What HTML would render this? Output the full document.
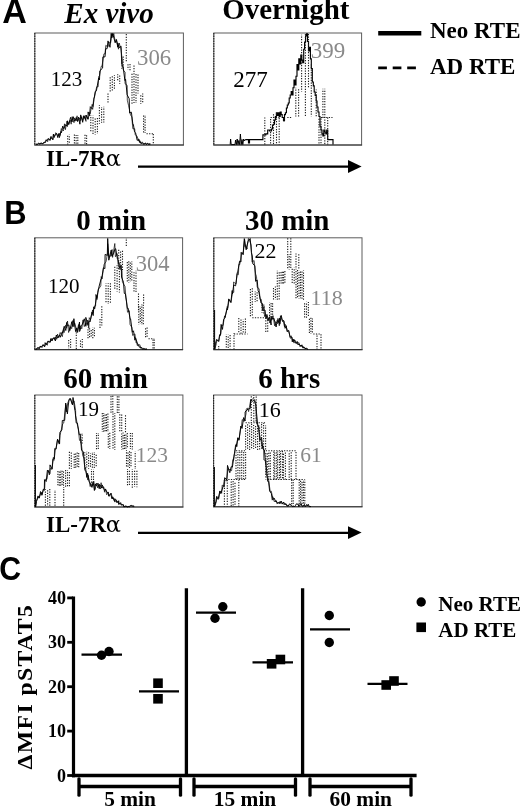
<!DOCTYPE html>
<html><head><meta charset="utf-8"><title>Figure</title>
<style>html,body{margin:0;padding:0;background:#fff}svg{display:block}</style></head>
<body><svg width="520" height="806" viewBox="0 0 520 806">
<rect width="520" height="806" fill="#fff"/>
<rect x="34.8" y="33.0" width="148.6" height="112.0" fill="none" stroke="#5c5c5c" stroke-width="1.0"/>
<line x1="34.8" y1="33.0" x2="34.8" y2="145.0" stroke="#222" stroke-width="1.1" stroke-dasharray="1.6 0.9"/>
<line x1="34.3" y1="145.0" x2="183.9" y2="145.0" stroke="#333" stroke-width="1.1"/>
<rect x="213.8" y="33.0" width="147.8" height="112.0" fill="none" stroke="#5c5c5c" stroke-width="1.0"/>
<line x1="213.8" y1="33.0" x2="213.8" y2="145.0" stroke="#222" stroke-width="1.1" stroke-dasharray="1.6 0.9"/>
<line x1="213.3" y1="145.0" x2="362.1" y2="145.0" stroke="#333" stroke-width="1.1"/>
<rect x="34.8" y="237.8" width="147.8" height="111.8" fill="none" stroke="#5c5c5c" stroke-width="1.0"/>
<line x1="34.8" y1="237.8" x2="34.8" y2="349.6" stroke="#222" stroke-width="1.1" stroke-dasharray="1.6 0.9"/>
<line x1="34.3" y1="349.6" x2="183.1" y2="349.6" stroke="#333" stroke-width="1.1"/>
<rect x="213.8" y="237.8" width="148.2" height="111.8" fill="none" stroke="#5c5c5c" stroke-width="1.0"/>
<line x1="213.8" y1="237.8" x2="213.8" y2="349.6" stroke="#222" stroke-width="1.1" stroke-dasharray="1.6 0.9"/>
<line x1="213.3" y1="349.6" x2="362.5" y2="349.6" stroke="#333" stroke-width="1.1"/>
<rect x="34.8" y="395.0" width="148.1" height="112.0" fill="none" stroke="#5c5c5c" stroke-width="1.0"/>
<line x1="34.8" y1="395.0" x2="34.8" y2="507.0" stroke="#222" stroke-width="1.1" stroke-dasharray="1.6 0.9"/>
<line x1="34.3" y1="507.0" x2="183.4" y2="507.0" stroke="#333" stroke-width="1.1"/>
<rect x="213.6" y="395.0" width="148.4" height="111.8" fill="none" stroke="#5c5c5c" stroke-width="1.0"/>
<line x1="213.6" y1="395.0" x2="213.6" y2="506.8" stroke="#222" stroke-width="1.1" stroke-dasharray="1.6 0.9"/>
<line x1="213.1" y1="506.8" x2="362.5" y2="506.8" stroke="#333" stroke-width="1.1"/>
<polyline points="36.0,144.0 37.3,144.4 38.7,143.3 40.0,144.0 40.8,142.9 42.9,143.8 44.5,142.3 45.5,142.4 46.4,139.9 47.0,140.7 48.3,138.4 50.0,140.4 51.0,136.4 52.9,139.7 53.4,134.0 54.2,136.5 56.6,133.4 57.8,137.6 58.9,133.7 59.4,137.6 61.0,131.5 61.5,132.7 62.7,126.1 63.7,128.7 65.8,124.6 67.3,126.5 67.5,120.8 68.9,124.4 70.5,117.4 72.0,122.0 73.1,116.6 74.8,121.3 76.2,117.5 77.6,121.4 78.5,117.1 79.9,124.2 80.7,114.9 82.7,122.3 83.7,115.8 85.5,119.7 86.2,115.2 88.0,119.0 88.1,111.9 89.6,115.7 90.3,106.7 92.6,109.3 94.0,99.6 94.1,98.9 95.2,91.5 96.4,90.8 98.7,78.0 99.5,79.9 99.8,70.8 102.6,68.1 102.9,56.9 105.0,56.9 105.7,48.8 107.1,48.7 108.0,40.9 110.0,47.3 111.2,33.5 111.8,38.0 112.7,33.5 115.2,42.7 116.3,39.3 117.8,47.2 117.7,42.9 119.2,47.7 121.1,46.2 121.7,64.2 123.2,67.4 124.9,80.5 125.6,79.3 127.1,94.7 129.2,98.7 129.6,113.0 131.4,112.2 132.9,124.6 133.4,124.5 134.5,131.8 135.6,132.8 137.2,140.4 138.9,139.0 139.5,142.3 139.9,140.8 140.9,143.5 142.5,143.1 144.0,144.2 145.8,143.0 146.4,144.4 147.4,143.5 148.9,144.5 150.4,144.0" fill="none" stroke="#000" stroke-width="0.95" stroke-linejoin="bevel"/>
<polyline points="36.0,144.0 36.8,144.6 38.6,143.3 39.6,144.0 41.5,143.3 42.1,144.0 44.1,142.0 44.5,143.1 46.2,139.7 47.7,141.7 48.3,139.0 50.1,140.1 50.3,137.6 52.8,139.5 53.6,134.0 54.3,137.6 55.7,132.7 58.2,136.0 59.1,133.2 60.0,135.5 61.3,128.6 63.4,131.0 64.5,123.8 65.4,129.7 66.9,121.2 68.0,125.1 70.2,120.0 71.2,124.2 72.0,116.8 74.0,122.7 74.0,117.8 76.2,121.0 77.1,115.8 77.5,121.3 79.8,117.8 80.2,120.7 81.8,116.7 82.6,120.6 84.2,115.7 86.0,121.4 85.9,115.2 88.0,119.5 89.7,112.4 90.1,113.8 92.2,104.3 92.9,106.6 93.7,98.3 94.5,97.0 96.7,86.8 98.2,86.7 98.6,76.6 99.6,75.6 101.2,66.4 102.0,66.2 103.9,53.9 105.0,53.8 105.8,45.3 107.9,47.1 109.5,42.2 110.7,42.8 112.0,33.5 112.8,36.5 113.8,33.5 115.3,42.3 116.7,40.5 118.5,49.2 119.2,43.0 120.9,49.0 121.7,55.4 123.3,70.1 125.1,72.2 125.0,83.7 127.2,85.4 127.3,100.2 128.6,105.7 130.5,114.9 131.8,116.9 132.8,128.7 134.7,128.8 135.2,134.5 137.2,136.5 138.6,141.0 138.8,140.3 140.0,142.8 142.5,142.1 143.5,144.2 145.4,143.2 146.3,144.5 147.8,143.1 148.5,144.2 149.5,143.5 150.4,144.0" fill="none" stroke="#000" stroke-width="0.7" stroke-linejoin="bevel"/>
<line x1="67.7" y1="134.8" x2="67.7" y2="144.4" stroke="#1a1a1a" stroke-width="1.1" stroke-dasharray="1.25 1.35" stroke-dashoffset="1.7"/>
<line x1="69.3" y1="134.6" x2="69.3" y2="144.1" stroke="#1a1a1a" stroke-width="1.1" stroke-dasharray="1.25 1.35" stroke-dashoffset="1.0"/>
<line x1="74.4" y1="134.6" x2="74.4" y2="144.1" stroke="#1a1a1a" stroke-width="1.1" stroke-dasharray="1.25 1.35" stroke-dashoffset="0.1"/>
<line x1="76.1" y1="134.9" x2="76.1" y2="144.5" stroke="#1a1a1a" stroke-width="1.1" stroke-dasharray="1.25 1.35" stroke-dashoffset="0.2"/>
<line x1="77.8" y1="134.9" x2="77.8" y2="143.8" stroke="#1a1a1a" stroke-width="1.1" stroke-dasharray="1.25 1.35" stroke-dashoffset="0.3"/>
<line x1="85.0" y1="134.7" x2="85.0" y2="144.0" stroke="#1a1a1a" stroke-width="1.1" stroke-dasharray="1.25 1.35" stroke-dashoffset="2.5"/>
<line x1="86.6" y1="135.1" x2="86.6" y2="144.2" stroke="#1a1a1a" stroke-width="1.1" stroke-dasharray="1.25 1.35" stroke-dashoffset="2.5"/>
<line x1="90.8" y1="115.1" x2="90.8" y2="132.4" stroke="#1a1a1a" stroke-width="1.1" stroke-dasharray="1.25 1.35" stroke-dashoffset="0.8"/>
<line x1="93.0" y1="115.4" x2="93.0" y2="134.6" stroke="#1a1a1a" stroke-width="1.1" stroke-dasharray="1.25 1.35" stroke-dashoffset="0.8"/>
<line x1="95.2" y1="117.4" x2="95.2" y2="134.5" stroke="#1a1a1a" stroke-width="1.1" stroke-dasharray="1.25 1.35" stroke-dashoffset="1.5"/>
<line x1="97.4" y1="116.9" x2="97.4" y2="133.9" stroke="#1a1a1a" stroke-width="1.1" stroke-dasharray="1.25 1.35" stroke-dashoffset="1.4"/>
<line x1="99.4" y1="105.2" x2="99.4" y2="123.8" stroke="#1a1a1a" stroke-width="1.1" stroke-dasharray="1.25 1.35" stroke-dashoffset="0.5"/>
<line x1="101.6" y1="107.0" x2="101.6" y2="122.7" stroke="#1a1a1a" stroke-width="1.1" stroke-dasharray="1.25 1.35" stroke-dashoffset="0.8"/>
<line x1="103.8" y1="106.8" x2="103.8" y2="122.6" stroke="#1a1a1a" stroke-width="1.1" stroke-dasharray="1.25 1.35" stroke-dashoffset="0.8"/>
<line x1="108.0" y1="93.0" x2="108.0" y2="103.0" stroke="#1a1a1a" stroke-width="1.1" stroke-dasharray="1.25 1.35" stroke-dashoffset="2.1"/>
<line x1="110.2" y1="76.1" x2="110.2" y2="92.3" stroke="#1a1a1a" stroke-width="1.1" stroke-dasharray="1.25 1.35" stroke-dashoffset="1.5"/>
<line x1="112.3" y1="75.6" x2="112.3" y2="90.4" stroke="#1a1a1a" stroke-width="1.1" stroke-dasharray="1.25 1.35" stroke-dashoffset="1.9"/>
<line x1="114.4" y1="74.9" x2="114.4" y2="90.1" stroke="#1a1a1a" stroke-width="1.1" stroke-dasharray="1.25 1.35" stroke-dashoffset="0.3"/>
<line x1="117.7" y1="74.3" x2="117.7" y2="81.7" stroke="#1a1a1a" stroke-width="1.1" stroke-dasharray="1.25 1.35" stroke-dashoffset="0.4"/>
<line x1="119.7" y1="74.5" x2="119.7" y2="83.9" stroke="#1a1a1a" stroke-width="1.1" stroke-dasharray="1.25 1.35" stroke-dashoffset="1.7"/>
<line x1="121.8" y1="57.1" x2="121.8" y2="68.7" stroke="#1a1a1a" stroke-width="1.1" stroke-dasharray="1.25 1.35" stroke-dashoffset="2.3"/>
<line x1="123.2" y1="55.3" x2="123.2" y2="68.2" stroke="#1a1a1a" stroke-width="1.1" stroke-dasharray="1.25 1.35" stroke-dashoffset="1.5"/>
<line x1="126.3" y1="33.0" x2="126.3" y2="62.7" stroke="#1a1a1a" stroke-width="1.1" stroke-dasharray="1.25 1.35" stroke-dashoffset="1.5"/>
<line x1="128.0" y1="64.1" x2="128.0" y2="69.8" stroke="#1a1a1a" stroke-width="1.1" stroke-dasharray="1.25 1.35" stroke-dashoffset="2.5"/>
<line x1="130.0" y1="64.1" x2="130.0" y2="70.3" stroke="#1a1a1a" stroke-width="1.1" stroke-dasharray="1.25 1.35" stroke-dashoffset="0.2"/>
<line x1="132.0" y1="73.0" x2="132.0" y2="105.0" stroke="#1a1a1a" stroke-width="1.1" stroke-dasharray="1.25 1.35" stroke-dashoffset="1.8"/>
<line x1="134.0" y1="64.6" x2="134.0" y2="103.0" stroke="#1a1a1a" stroke-width="1.1" stroke-dasharray="1.25 1.35" stroke-dashoffset="1.7"/>
<line x1="136.0" y1="74.0" x2="136.0" y2="103.0" stroke="#1a1a1a" stroke-width="1.1" stroke-dasharray="1.25 1.35" stroke-dashoffset="2.6"/>
<line x1="138.0" y1="74.0" x2="138.0" y2="93.5" stroke="#1a1a1a" stroke-width="1.1" stroke-dasharray="1.25 1.35" stroke-dashoffset="2.1"/>
<line x1="140.8" y1="94.4" x2="140.8" y2="103.8" stroke="#1a1a1a" stroke-width="1.1" stroke-dasharray="1.25 1.35" stroke-dashoffset="1.7"/>
<line x1="142.7" y1="93.6" x2="142.7" y2="103.6" stroke="#1a1a1a" stroke-width="1.1" stroke-dasharray="1.25 1.35" stroke-dashoffset="0.4"/>
<line x1="143.6" y1="115.0" x2="143.6" y2="133.6" stroke="#1a1a1a" stroke-width="1.1" stroke-dasharray="1.25 1.35" stroke-dashoffset="2.0"/>
<line x1="145.1" y1="115.0" x2="145.1" y2="133.1" stroke="#1a1a1a" stroke-width="1.1" stroke-dasharray="1.25 1.35" stroke-dashoffset="1.0"/>
<line x1="146.5" y1="133.8" x2="153.3" y2="133.8" stroke="#1a1a1a" stroke-width="1.1" stroke-dasharray="1.25 1.35"/>
<line x1="153.3" y1="133.8" x2="153.3" y2="144.6" stroke="#1a1a1a" stroke-width="1.1" stroke-dasharray="1.25 1.35" stroke-dashoffset="2.3"/>
<polyline points="230.2,144.6 230.6,139 231.2,144.6 235,144.6 235.6,140 236.4,144.6 237.2,139 238,144.6 238.8,140.5 239.6,144.6 240.4,134 241.2,144.6 242,139.5 242.8,144.6 243.6,139 244.4,141 245.2,139.6" fill="none" stroke="#000" stroke-width="1"/>
<polyline points="245.2,139.6 248.0,139.6 248.0,139.6 248.5,139.6 248.5,143.0 249.5,143.0 249.5,139.6 262.0,139.6 262.0,139.6 262.9,139.6 262.9,134.8 265.8,134.8 265.8,133.8 267.7,133.8 267.7,130.0 269.5,130.0 269.5,131.0 271.5,131.0 271.5,129.0 272.5,129.0 272.5,125.0 273.5,125.0 273.5,124.2 274.5,124.2 274.5,120.0 275.4,120.0 275.4,116.5 276.4,116.5 276.4,112.7 277.3,112.7 277.3,115.5 278.2,115.5 278.2,112.7 279.2,112.7 279.2,116.5 280.2,116.5 280.2,112.0 281.2,112.0 281.2,114.6 282.2,114.6 282.2,117.5 283.5,117.5 283.5,120.4 284.5,120.4 284.5,114.6 285.4,114.6 285.4,112.7 286.4,112.7 286.4,108.0 287.3,108.0 287.3,105.0 288.3,105.0 288.3,103.0 289.2,103.0 289.2,98.0 290.2,98.0 290.2,95.0 291.2,95.0 291.2,91.5 292.2,91.5 292.2,95.0 293.0,95.0 293.0,87.7 294.0,87.7 294.0,80.0 295.0,80.0 295.0,85.0 296.0,85.0 296.0,76.2 297.0,76.2 297.0,64.6 298.0,64.6 298.0,70.0 298.8,70.0 298.8,58.8 299.8,58.8 299.8,64.0 300.8,64.0 300.8,55.0 301.8,55.0 301.8,60.0 302.7,60.0 302.7,62.7 303.7,62.7 303.7,49.2 304.6,49.2 304.6,42.0 305.6,42.0 305.6,35.8 306.5,35.8 306.5,33.8 307.5,33.8 307.5,41.5 308.5,41.5 308.5,51.0 309.4,51.0 309.4,47.3 310.4,47.3 310.4,58.8 311.3,58.8 311.3,68.5 312.3,68.5 312.3,82.0 313.3,82.0 313.3,85.8 314.2,85.8 314.2,92.0 315.2,92.0 315.2,95.4 316.2,95.4 316.2,101.0 317.0,101.0 317.0,107.0 318.0,107.0 318.0,112.0 319.0,112.0 319.0,116.5 320.0,116.5 320.0,126.2 321.0,126.2 321.0,130.0 322.0,130.0 322.0,133.8 322.9,133.8 322.9,136.0 323.8,136.0 323.8,130.0 324.8,130.0 324.8,132.0 325.8,132.0 325.8,133.8 326.7,133.8 326.7,130.0 327.7,130.0 327.7,139.6 332.5,139.6 332.5,139.6 333.0,139.6 333.0,144.6" fill="none" stroke="#000" stroke-width="1.15" stroke-linejoin="miter"/>
<line x1="264.8" y1="117.5" x2="264.8" y2="144.6" stroke="#1a1a1a" stroke-width="1.1" stroke-dasharray="1.25 1.35" stroke-dashoffset="0.2"/>
<line x1="270.6" y1="117.5" x2="270.6" y2="144.6" stroke="#1a1a1a" stroke-width="1.1" stroke-dasharray="1.25 1.35" stroke-dashoffset="1.2"/>
<line x1="270.6" y1="117.5" x2="279.5" y2="117.5" stroke="#1a1a1a" stroke-width="1.1" stroke-dasharray="1.25 1.35"/>
<line x1="273.5" y1="113.0" x2="273.5" y2="144.6" stroke="#1a1a1a" stroke-width="1.1" stroke-dasharray="1.25 1.35" stroke-dashoffset="1.4"/>
<line x1="276.5" y1="113.0" x2="276.5" y2="144.6" stroke="#1a1a1a" stroke-width="1.1" stroke-dasharray="1.25 1.35" stroke-dashoffset="2.3"/>
<line x1="279.2" y1="117.5" x2="279.2" y2="144.6" stroke="#1a1a1a" stroke-width="1.1" stroke-dasharray="1.25 1.35" stroke-dashoffset="2.1"/>
<line x1="284.0" y1="117.5" x2="284.0" y2="122.0" stroke="#1a1a1a" stroke-width="1.1" stroke-dasharray="1.25 1.35" stroke-dashoffset="2.2"/>
<line x1="287.3" y1="117.5" x2="292.0" y2="117.5" stroke="#1a1a1a" stroke-width="1.1" stroke-dasharray="1.25 1.35"/>
<line x1="295.8" y1="87.7" x2="295.8" y2="116.5" stroke="#1a1a1a" stroke-width="1.1" stroke-dasharray="1.25 1.35" stroke-dashoffset="0.7"/>
<line x1="298.6" y1="87.7" x2="298.6" y2="116.5" stroke="#1a1a1a" stroke-width="1.1" stroke-dasharray="1.25 1.35" stroke-dashoffset="1.1"/>
<line x1="301.6" y1="34.8" x2="301.6" y2="91.5" stroke="#1a1a1a" stroke-width="1.1" stroke-dasharray="1.25 1.35" stroke-dashoffset="0.9"/>
<line x1="305.4" y1="33.8" x2="305.4" y2="116.5" stroke="#1a1a1a" stroke-width="1.1" stroke-dasharray="1.25 1.35" stroke-dashoffset="2.3"/>
<line x1="308.5" y1="33.8" x2="308.5" y2="88.0" stroke="#1a1a1a" stroke-width="1.1" stroke-dasharray="1.25 1.35" stroke-dashoffset="2.5"/>
<line x1="311.3" y1="64.6" x2="311.3" y2="116.5" stroke="#1a1a1a" stroke-width="1.1" stroke-dasharray="1.25 1.35" stroke-dashoffset="0.4"/>
<line x1="316.2" y1="89.6" x2="316.2" y2="116.5" stroke="#1a1a1a" stroke-width="1.1" stroke-dasharray="1.25 1.35" stroke-dashoffset="0.5"/>
<line x1="322.9" y1="88.7" x2="322.9" y2="118.5" stroke="#1a1a1a" stroke-width="1.1" stroke-dasharray="1.25 1.35" stroke-dashoffset="0.6"/>
<line x1="324.8" y1="88.7" x2="324.8" y2="118.5" stroke="#1a1a1a" stroke-width="1.1" stroke-dasharray="1.25 1.35" stroke-dashoffset="0.6"/>
<line x1="321.0" y1="117.5" x2="332.5" y2="117.5" stroke="#1a1a1a" stroke-width="1.1" stroke-dasharray="1.25 1.35"/>
<line x1="319.0" y1="117.5" x2="319.0" y2="144.6" stroke="#1a1a1a" stroke-width="1.1" stroke-dasharray="1.25 1.35" stroke-dashoffset="1.3"/>
<line x1="321.0" y1="117.5" x2="321.0" y2="144.6" stroke="#1a1a1a" stroke-width="1.1" stroke-dasharray="1.25 1.35" stroke-dashoffset="1.5"/>
<line x1="324.8" y1="117.5" x2="324.8" y2="144.6" stroke="#1a1a1a" stroke-width="1.1" stroke-dasharray="1.25 1.35" stroke-dashoffset="0.7"/>
<line x1="327.7" y1="117.5" x2="327.7" y2="144.6" stroke="#1a1a1a" stroke-width="1.1" stroke-dasharray="1.25 1.35" stroke-dashoffset="0.0"/>
<polyline points="35.5,349.2 37.0,348.9 37.7,347.6 39.5,348.5 40.0,346.2 41.3,347.3 42.9,344.7 44.7,346.8 45.1,342.7 46.4,344.7 47.9,341.1 50.4,342.2 50.8,338.7 51.6,340.7 54.1,337.3 55.4,341.0 56.3,335.0 57.5,338.1 59.6,335.1 60.2,337.3 62.3,331.9 62.3,333.3 64.2,326.3 65.8,330.5 66.6,322.5 67.4,325.9 68.8,324.9 69.8,330.6 71.8,321.7 72.8,326.6 73.9,318.7 75.6,331.6 76.8,327.9 77.6,332.4 79.5,322.0 79.7,331.3 81.4,325.3 82.3,324.5 84.3,318.8 85.9,326.3 85.8,317.4 88.0,325.4 88.9,320.7 90.1,321.9 92.0,312.1 93.2,315.6 93.8,306.9 94.7,308.8 96.8,295.4 96.8,298.3 97.8,292.3 99.2,286.0 101.0,279.1 101.7,278.7 103.4,267.8 104.9,268.6 105.1,254.4 107.3,255.4 107.7,238.5 108.8,260.2 111.2,250.1 111.8,256.2 113.4,253.9 115.1,248.9 115.7,248.7 117.4,258.9 118.2,259.8 119.3,268.1 121.3,265.3 121.5,277.0 123.5,282.2 124.3,293.4 125.4,293.8 127.4,308.4 128.1,308.1 130.2,319.0 130.6,319.0 132.3,332.2 133.5,330.8 134.9,340.2 135.6,337.8 137.8,344.8 138.3,344.4 139.3,347.2 140.8,347.1 142.4,349.2 143.8,348.4 144.9,349.2 146.6,349.0 147.0,349.2" fill="none" stroke="#000" stroke-width="0.95" stroke-linejoin="bevel"/>
<polyline points="35.5,349.2 36.9,348.9 38.1,347.4 38.9,348.7 40.9,346.1 42.3,347.4 43.4,344.8 44.9,346.1 46.0,342.9 47.3,345.3 48.1,341.4 49.4,342.4 51.3,338.5 52.3,340.9 52.9,338.0 54.4,339.6 55.7,337.1 56.7,339.3 57.5,334.1 58.6,337.7 60.2,332.5 62.3,336.7 63.6,329.3 64.0,332.7 65.5,325.3 66.5,328.2 67.5,321.0 68.6,332.5 70.8,326.7 71.7,328.7 72.7,320.6 73.9,326.7 74.7,323.1 77.1,331.7 78.5,324.6 79.8,329.2 79.9,325.4 81.8,328.8 83.0,319.9 84.3,326.6 85.5,323.2 86.2,324.7 87.5,320.1 88.8,328.4 89.3,317.7 90.5,319.6 92.6,309.9 92.8,313.2 94.4,306.1 95.6,305.9 95.9,294.4 97.0,299.6 98.3,289.4 100.8,285.9 101.2,276.6 102.0,279.0 104.0,264.6 106.1,261.4 107.6,252.7 107.7,243.7 108.9,256.2 110.4,256.3 112.1,249.5 112.6,257.4 114.8,243.5 115.4,256.7 117.2,253.7 118.1,264.3 119.0,262.4 121.0,270.2 122.0,270.8 122.4,282.1 125.0,286.4 125.9,297.3 126.5,301.2 127.5,312.2 129.4,310.8 130.0,324.4 131.9,327.5 132.6,335.4 134.9,333.9 136.1,342.6 136.5,341.6 137.3,345.6 139.9,344.7 140.6,348.3 141.1,347.2 143.7,349.2 144.5,348.8 145.3,349.2 147.0,349.2" fill="none" stroke="#000" stroke-width="0.7" stroke-linejoin="bevel"/>
<line x1="126.3" y1="238.0" x2="126.3" y2="247.0" stroke="#1a1a1a" stroke-width="1.1" stroke-dasharray="1.25 1.35" stroke-dashoffset="1.1"/>
<line x1="118.7" y1="249.6" x2="118.7" y2="269.8" stroke="#1a1a1a" stroke-width="1.1" stroke-dasharray="1.25 1.35" stroke-dashoffset="2.5"/>
<line x1="120.6" y1="250.6" x2="120.6" y2="270.0" stroke="#1a1a1a" stroke-width="1.1" stroke-dasharray="1.25 1.35" stroke-dashoffset="1.6"/>
<line x1="122.5" y1="250.5" x2="122.5" y2="271.3" stroke="#1a1a1a" stroke-width="1.1" stroke-dasharray="1.25 1.35" stroke-dashoffset="2.3"/>
<line x1="114.8" y1="266.3" x2="114.8" y2="290.1" stroke="#1a1a1a" stroke-width="1.1" stroke-dasharray="1.25 1.35" stroke-dashoffset="2.1"/>
<line x1="117.1" y1="265.2" x2="117.1" y2="291.5" stroke="#1a1a1a" stroke-width="1.1" stroke-dasharray="1.25 1.35" stroke-dashoffset="0.3"/>
<line x1="119.4" y1="265.9" x2="119.4" y2="292.5" stroke="#1a1a1a" stroke-width="1.1" stroke-dasharray="1.25 1.35" stroke-dashoffset="0.2"/>
<line x1="106.0" y1="283.6" x2="106.0" y2="303.5" stroke="#1a1a1a" stroke-width="1.1" stroke-dasharray="1.25 1.35" stroke-dashoffset="0.9"/>
<line x1="108.2" y1="283.2" x2="108.2" y2="304.0" stroke="#1a1a1a" stroke-width="1.1" stroke-dasharray="1.25 1.35" stroke-dashoffset="0.4"/>
<line x1="110.4" y1="283.3" x2="110.4" y2="302.9" stroke="#1a1a1a" stroke-width="1.1" stroke-dasharray="1.25 1.35" stroke-dashoffset="0.1"/>
<line x1="101.8" y1="306.0" x2="101.8" y2="325.4" stroke="#1a1a1a" stroke-width="1.1" stroke-dasharray="1.25 1.35" stroke-dashoffset="2.3"/>
<line x1="100.0" y1="318.0" x2="100.0" y2="328.0" stroke="#1a1a1a" stroke-width="1.1" stroke-dasharray="1.25 1.35" stroke-dashoffset="1.6"/>
<line x1="88.0" y1="327.5" x2="88.0" y2="338.4" stroke="#1a1a1a" stroke-width="1.1" stroke-dasharray="1.25 1.35" stroke-dashoffset="0.9"/>
<line x1="89.6" y1="327.8" x2="89.6" y2="338.6" stroke="#1a1a1a" stroke-width="1.1" stroke-dasharray="1.25 1.35" stroke-dashoffset="2.2"/>
<line x1="91.2" y1="328.8" x2="91.2" y2="338.1" stroke="#1a1a1a" stroke-width="1.1" stroke-dasharray="1.25 1.35" stroke-dashoffset="1.3"/>
<line x1="92.8" y1="327.4" x2="92.8" y2="338.6" stroke="#1a1a1a" stroke-width="1.1" stroke-dasharray="1.25 1.35" stroke-dashoffset="0.9"/>
<line x1="94.4" y1="327.7" x2="94.4" y2="337.6" stroke="#1a1a1a" stroke-width="1.1" stroke-dasharray="1.25 1.35" stroke-dashoffset="0.4"/>
<line x1="68.7" y1="338.8" x2="68.7" y2="348.2" stroke="#1a1a1a" stroke-width="1.1" stroke-dasharray="1.25 1.35" stroke-dashoffset="1.4"/>
<line x1="70.6" y1="338.9" x2="70.6" y2="348.7" stroke="#1a1a1a" stroke-width="1.1" stroke-dasharray="1.25 1.35" stroke-dashoffset="0.1"/>
<line x1="76.3" y1="331.0" x2="76.3" y2="349.2" stroke="#1a1a1a" stroke-width="1.1" stroke-dasharray="1.25 1.35" stroke-dashoffset="1.4"/>
<line x1="76.3" y1="331.0" x2="80.0" y2="331.0" stroke="#1a1a1a" stroke-width="1.1" stroke-dasharray="1.25 1.35"/>
<line x1="80.5" y1="339.8" x2="80.5" y2="348.3" stroke="#1a1a1a" stroke-width="1.1" stroke-dasharray="1.25 1.35" stroke-dashoffset="1.8"/>
<line x1="82.3" y1="339.1" x2="82.3" y2="348.8" stroke="#1a1a1a" stroke-width="1.1" stroke-dasharray="1.25 1.35" stroke-dashoffset="0.4"/>
<line x1="127.3" y1="261.5" x2="127.3" y2="281.9" stroke="#1a1a1a" stroke-width="1.1" stroke-dasharray="1.25 1.35" stroke-dashoffset="2.0"/>
<line x1="128.8" y1="260.7" x2="128.8" y2="282.6" stroke="#1a1a1a" stroke-width="1.1" stroke-dasharray="1.25 1.35" stroke-dashoffset="2.1"/>
<line x1="130.3" y1="262.0" x2="130.3" y2="281.3" stroke="#1a1a1a" stroke-width="1.1" stroke-dasharray="1.25 1.35" stroke-dashoffset="2.1"/>
<line x1="131.8" y1="261.6" x2="131.8" y2="281.5" stroke="#1a1a1a" stroke-width="1.1" stroke-dasharray="1.25 1.35" stroke-dashoffset="0.6"/>
<line x1="134.0" y1="272.2" x2="134.0" y2="291.6" stroke="#1a1a1a" stroke-width="1.1" stroke-dasharray="1.25 1.35" stroke-dashoffset="0.1"/>
<line x1="136.0" y1="270.7" x2="136.0" y2="291.9" stroke="#1a1a1a" stroke-width="1.1" stroke-dasharray="1.25 1.35" stroke-dashoffset="0.7"/>
<line x1="138.5" y1="292.7" x2="138.5" y2="312.0" stroke="#1a1a1a" stroke-width="1.1" stroke-dasharray="1.25 1.35" stroke-dashoffset="1.8"/>
<line x1="138.8" y1="305.9" x2="138.8" y2="324.5" stroke="#1a1a1a" stroke-width="1.1" stroke-dasharray="1.25 1.35" stroke-dashoffset="2.4"/>
<line x1="140.3" y1="306.0" x2="140.3" y2="323.5" stroke="#1a1a1a" stroke-width="1.1" stroke-dasharray="1.25 1.35" stroke-dashoffset="0.9"/>
<line x1="141.8" y1="304.4" x2="141.8" y2="324.9" stroke="#1a1a1a" stroke-width="1.1" stroke-dasharray="1.25 1.35" stroke-dashoffset="0.5"/>
<line x1="143.3" y1="304.4" x2="143.3" y2="324.2" stroke="#1a1a1a" stroke-width="1.1" stroke-dasharray="1.25 1.35" stroke-dashoffset="2.3"/>
<line x1="143.6" y1="294.0" x2="143.6" y2="304.0" stroke="#1a1a1a" stroke-width="1.1" stroke-dasharray="1.25 1.35" stroke-dashoffset="2.2"/>
<line x1="145.6" y1="327.8" x2="145.6" y2="338.1" stroke="#1a1a1a" stroke-width="1.1" stroke-dasharray="1.25 1.35" stroke-dashoffset="2.1"/>
<line x1="147.1" y1="327.4" x2="147.1" y2="338.1" stroke="#1a1a1a" stroke-width="1.1" stroke-dasharray="1.25 1.35" stroke-dashoffset="2.4"/>
<line x1="148.5" y1="338.8" x2="154.2" y2="338.8" stroke="#1a1a1a" stroke-width="1.1" stroke-dasharray="1.25 1.35"/>
<line x1="154.2" y1="338.8" x2="154.2" y2="349.2" stroke="#1a1a1a" stroke-width="1.1" stroke-dasharray="1.25 1.35" stroke-dashoffset="2.0"/>
<line x1="153.0" y1="338.8" x2="153.0" y2="349.2" stroke="#1a1a1a" stroke-width="1.1" stroke-dasharray="1.25 1.35" stroke-dashoffset="2.0"/>
<line x1="214.6" y1="310" x2="214.6" y2="349.2" stroke="#000" stroke-width="1.0"/>
<polyline points="214.8,349.2 215.5,343.1 216.7,339.3 218.7,341.3 219.6,334.7 220.4,335.4 221.1,324.4 222.5,329.4 223.6,319.4 224.8,318.1 227.2,308.4 227.5,309.8 228.7,298.9 230.9,302.3 232.2,290.5 232.5,293.9 233.7,284.9 235.6,285.8 237.3,272.4 237.6,272.6 239.6,261.2 241.0,261.9 241.1,252.5 243.1,254.5 244.3,238.6 246.2,249.8 246.5,247.2 248.1,241.3 250.2,238.5 251.4,252.5 252.3,256.0 252.9,264.0 254.8,265.7 255.6,281.3 257.2,280.0 258.1,290.7 258.9,292.2 261.0,303.0 262.4,303.5 263.1,310.5 265.0,310.0 266.0,318.5 266.9,314.4 268.4,320.5 269.6,316.7 271.1,325.0 271.2,316.4 272.8,319.2 273.9,318.1 276.1,327.0 277.2,320.3 278.2,322.6 279.4,318.1 279.8,324.2 281.2,315.4 282.4,320.5 284.0,320.8 285.1,328.3 286.2,325.8 287.1,331.7 288.7,330.3 290.3,338.2 291.9,337.0 293.0,342.0 293.8,339.2 296.1,343.5 297.3,341.5 298.2,344.9 299.1,343.9 300.9,346.4 301.9,344.8 303.2,348.2 303.8,346.9 304.7,348.5 306.4,348.5 307.3,349.2 308.0,349.2" fill="none" stroke="#000" stroke-width="0.95" stroke-linejoin="bevel"/>
<polyline points="214.8,349.2 216.4,343.6 216.9,340.2 218.7,341.4 219.9,335.1 220.8,334.4 221.7,325.3 223.1,325.4 224.6,315.8 225.2,317.4 227.2,306.5 227.7,308.0 229.2,299.6 230.9,302.6 232.5,292.6 233.8,292.3 233.5,282.1 236.1,283.8 237.1,273.7 238.4,274.7 238.9,264.3 239.7,264.7 241.9,252.2 243.1,254.5 244.6,239.5 244.8,246.6 247.2,247.8 246.9,249.0 248.4,238.5 250.3,242.5 251.2,245.1 252.0,262.2 254.1,260.5 255.6,274.0 256.5,276.5 257.2,287.3 259.1,288.7 260.1,299.4 261.3,299.4 262.6,310.7 264.1,306.2 264.5,316.5 265.3,314.9 267.6,319.9 269.1,317.6 269.8,323.0 271.4,317.7 271.7,320.3 273.0,315.6 274.6,325.8 275.7,321.7 277.6,323.6 277.8,318.5 279.3,325.8 280.5,315.9 282.6,321.7 283.2,320.7 284.5,326.8 285.5,324.5 287.6,331.1 288.7,331.3 290.2,337.0 291.3,335.8 292.2,341.8 293.0,339.4 294.0,343.1 295.3,340.5 297.2,344.2 298.9,342.5 300.0,346.6 300.8,345.0 302.4,347.4 303.7,346.9 305.3,348.3 306.6,348.0 307.7,349.2 308.0,349.2" fill="none" stroke="#000" stroke-width="0.7" stroke-linejoin="bevel"/>
<line x1="218.7" y1="344.5" x2="218.7" y2="349.2" stroke="#1a1a1a" stroke-width="1.1" stroke-dasharray="1.25 1.35" stroke-dashoffset="1.2"/>
<line x1="226.3" y1="334.2" x2="226.3" y2="348.4" stroke="#1a1a1a" stroke-width="1.1" stroke-dasharray="1.25 1.35" stroke-dashoffset="0.9"/>
<line x1="228.2" y1="334.8" x2="228.2" y2="348.2" stroke="#1a1a1a" stroke-width="1.1" stroke-dasharray="1.25 1.35" stroke-dashoffset="1.0"/>
<line x1="230.1" y1="334.4" x2="230.1" y2="348.3" stroke="#1a1a1a" stroke-width="1.1" stroke-dasharray="1.25 1.35" stroke-dashoffset="1.9"/>
<line x1="234.0" y1="333.0" x2="234.0" y2="349.2" stroke="#1a1a1a" stroke-width="1.1" stroke-dasharray="1.25 1.35" stroke-dashoffset="0.4"/>
<line x1="234.0" y1="334.0" x2="247.5" y2="334.0" stroke="#1a1a1a" stroke-width="1.1" stroke-dasharray="1.25 1.35"/>
<line x1="238.8" y1="317.9" x2="238.8" y2="333.8" stroke="#1a1a1a" stroke-width="1.1" stroke-dasharray="1.25 1.35" stroke-dashoffset="2.4"/>
<line x1="241.0" y1="318.9" x2="241.0" y2="333.8" stroke="#1a1a1a" stroke-width="1.1" stroke-dasharray="1.25 1.35" stroke-dashoffset="2.1"/>
<line x1="243.2" y1="319.2" x2="243.2" y2="333.0" stroke="#1a1a1a" stroke-width="1.1" stroke-dasharray="1.25 1.35" stroke-dashoffset="0.9"/>
<line x1="245.4" y1="318.5" x2="245.4" y2="333.8" stroke="#1a1a1a" stroke-width="1.1" stroke-dasharray="1.25 1.35" stroke-dashoffset="0.0"/>
<line x1="250.4" y1="287.9" x2="250.4" y2="316.4" stroke="#1a1a1a" stroke-width="1.1" stroke-dasharray="1.25 1.35" stroke-dashoffset="1.4"/>
<line x1="252.3" y1="287.9" x2="252.3" y2="316.8" stroke="#1a1a1a" stroke-width="1.1" stroke-dasharray="1.25 1.35" stroke-dashoffset="2.3"/>
<line x1="255.2" y1="291.6" x2="255.2" y2="302.1" stroke="#1a1a1a" stroke-width="1.1" stroke-dasharray="1.25 1.35" stroke-dashoffset="0.7"/>
<line x1="257.1" y1="291.1" x2="257.1" y2="302.1" stroke="#1a1a1a" stroke-width="1.1" stroke-dasharray="1.25 1.35" stroke-dashoffset="1.5"/>
<line x1="252.3" y1="317.7" x2="265.8" y2="317.7" stroke="#1a1a1a" stroke-width="1.1" stroke-dasharray="1.25 1.35"/>
<line x1="265.8" y1="318.0" x2="265.8" y2="332.6" stroke="#1a1a1a" stroke-width="1.1" stroke-dasharray="1.25 1.35" stroke-dashoffset="0.3"/>
<line x1="267.7" y1="318.6" x2="267.7" y2="332.6" stroke="#1a1a1a" stroke-width="1.1" stroke-dasharray="1.25 1.35" stroke-dashoffset="1.2"/>
<line x1="262.0" y1="302.9" x2="262.0" y2="313.1" stroke="#1a1a1a" stroke-width="1.1" stroke-dasharray="1.25 1.35" stroke-dashoffset="1.1"/>
<line x1="263.8" y1="303.2" x2="263.8" y2="313.5" stroke="#1a1a1a" stroke-width="1.1" stroke-dasharray="1.25 1.35" stroke-dashoffset="1.4"/>
<line x1="269.6" y1="302.8" x2="269.6" y2="317.7" stroke="#1a1a1a" stroke-width="1.1" stroke-dasharray="1.25 1.35" stroke-dashoffset="1.1"/>
<line x1="271.1" y1="302.5" x2="271.1" y2="317.7" stroke="#1a1a1a" stroke-width="1.1" stroke-dasharray="1.25 1.35" stroke-dashoffset="2.1"/>
<line x1="272.6" y1="302.5" x2="272.6" y2="317.2" stroke="#1a1a1a" stroke-width="1.1" stroke-dasharray="1.25 1.35" stroke-dashoffset="1.9"/>
<line x1="273.5" y1="286.6" x2="273.5" y2="300.1" stroke="#1a1a1a" stroke-width="1.1" stroke-dasharray="1.25 1.35" stroke-dashoffset="1.3"/>
<line x1="275.4" y1="286.6" x2="275.4" y2="299.6" stroke="#1a1a1a" stroke-width="1.1" stroke-dasharray="1.25 1.35" stroke-dashoffset="0.3"/>
<line x1="277.3" y1="270.7" x2="277.3" y2="299.9" stroke="#1a1a1a" stroke-width="1.1" stroke-dasharray="1.25 1.35" stroke-dashoffset="0.7"/>
<line x1="279.2" y1="271.1" x2="279.2" y2="299.4" stroke="#1a1a1a" stroke-width="1.1" stroke-dasharray="1.25 1.35" stroke-dashoffset="1.5"/>
<line x1="281.0" y1="270.7" x2="281.0" y2="283.6" stroke="#1a1a1a" stroke-width="1.1" stroke-dasharray="1.25 1.35" stroke-dashoffset="1.2"/>
<line x1="282.3" y1="270.5" x2="282.3" y2="284.2" stroke="#1a1a1a" stroke-width="1.1" stroke-dasharray="1.25 1.35" stroke-dashoffset="1.3"/>
<line x1="283.6" y1="270.6" x2="283.6" y2="284.3" stroke="#1a1a1a" stroke-width="1.1" stroke-dasharray="1.25 1.35" stroke-dashoffset="1.4"/>
<line x1="284.9" y1="270.3" x2="284.9" y2="283.6" stroke="#1a1a1a" stroke-width="1.1" stroke-dasharray="1.25 1.35" stroke-dashoffset="1.8"/>
<line x1="287.7" y1="238.0" x2="287.7" y2="269.6" stroke="#1a1a1a" stroke-width="1.1" stroke-dasharray="1.25 1.35" stroke-dashoffset="2.3"/>
<line x1="290.8" y1="238.0" x2="290.8" y2="269.6" stroke="#1a1a1a" stroke-width="1.1" stroke-dasharray="1.25 1.35" stroke-dashoffset="2.4"/>
<line x1="289.2" y1="254.0" x2="289.2" y2="269.6" stroke="#1a1a1a" stroke-width="1.1" stroke-dasharray="1.25 1.35" stroke-dashoffset="0.7"/>
<line x1="292.2" y1="268.3" x2="292.2" y2="284.1" stroke="#1a1a1a" stroke-width="1.1" stroke-dasharray="1.25 1.35" stroke-dashoffset="2.2"/>
<line x1="294.2" y1="267.8" x2="294.2" y2="284.9" stroke="#1a1a1a" stroke-width="1.1" stroke-dasharray="1.25 1.35" stroke-dashoffset="1.1"/>
<line x1="296.0" y1="253.4" x2="296.0" y2="269.4" stroke="#1a1a1a" stroke-width="1.1" stroke-dasharray="1.25 1.35" stroke-dashoffset="0.2"/>
<line x1="298.8" y1="254.0" x2="298.8" y2="268.8" stroke="#1a1a1a" stroke-width="1.1" stroke-dasharray="1.25 1.35" stroke-dashoffset="2.3"/>
<line x1="296.0" y1="270.1" x2="296.0" y2="299.2" stroke="#1a1a1a" stroke-width="1.1" stroke-dasharray="1.25 1.35" stroke-dashoffset="1.7"/>
<line x1="297.5" y1="270.0" x2="297.5" y2="298.7" stroke="#1a1a1a" stroke-width="1.1" stroke-dasharray="1.25 1.35" stroke-dashoffset="2.5"/>
<line x1="299.0" y1="270.3" x2="299.0" y2="298.4" stroke="#1a1a1a" stroke-width="1.1" stroke-dasharray="1.25 1.35" stroke-dashoffset="1.0"/>
<line x1="300.5" y1="271.1" x2="300.5" y2="298.3" stroke="#1a1a1a" stroke-width="1.1" stroke-dasharray="1.25 1.35" stroke-dashoffset="2.2"/>
<line x1="302.0" y1="270.1" x2="302.0" y2="300.0" stroke="#1a1a1a" stroke-width="1.1" stroke-dasharray="1.25 1.35" stroke-dashoffset="1.3"/>
<line x1="303.5" y1="270.6" x2="303.5" y2="300.7" stroke="#1a1a1a" stroke-width="1.1" stroke-dasharray="1.25 1.35" stroke-dashoffset="0.8"/>
<line x1="304.6" y1="302.0" x2="304.6" y2="317.7" stroke="#1a1a1a" stroke-width="1.1" stroke-dasharray="1.25 1.35" stroke-dashoffset="1.4"/>
<line x1="306.5" y1="301.7" x2="306.5" y2="317.7" stroke="#1a1a1a" stroke-width="1.1" stroke-dasharray="1.25 1.35" stroke-dashoffset="0.9"/>
<line x1="308.4" y1="301.9" x2="308.4" y2="317.2" stroke="#1a1a1a" stroke-width="1.1" stroke-dasharray="1.25 1.35" stroke-dashoffset="0.2"/>
<line x1="309.4" y1="318.7" x2="309.4" y2="333.2" stroke="#1a1a1a" stroke-width="1.1" stroke-dasharray="1.25 1.35" stroke-dashoffset="2.5"/>
<line x1="310.9" y1="317.8" x2="310.9" y2="333.7" stroke="#1a1a1a" stroke-width="1.1" stroke-dasharray="1.25 1.35" stroke-dashoffset="0.1"/>
<line x1="312.4" y1="318.5" x2="312.4" y2="333.7" stroke="#1a1a1a" stroke-width="1.1" stroke-dasharray="1.25 1.35" stroke-dashoffset="0.3"/>
<line x1="313.3" y1="334.0" x2="321.0" y2="334.0" stroke="#1a1a1a" stroke-width="1.1" stroke-dasharray="1.25 1.35"/>
<line x1="317.0" y1="334.0" x2="317.0" y2="349.2" stroke="#1a1a1a" stroke-width="1.1" stroke-dasharray="1.25 1.35" stroke-dashoffset="1.1"/>
<line x1="321.0" y1="334.0" x2="321.0" y2="349.2" stroke="#1a1a1a" stroke-width="1.1" stroke-dasharray="1.25 1.35" stroke-dashoffset="2.4"/>
<line x1="35.4" y1="465" x2="35.4" y2="506.8" stroke="#000" stroke-width="1.0"/>
<polyline points="35.6,506.8 36.5,501.3 38.0,495.9 39.1,498.2 41.0,492.1 41.9,495.3 43.4,489.4 44.3,490.4 44.5,479.7 46.2,481.5 47.4,470.2 49.9,473.6 50.0,464.9 52.0,468.9 53.4,457.5 54.3,458.9 55.2,449.2 55.9,449.1 57.6,439.3 59.6,443.7 59.9,432.4 61.9,429.9 62.3,420.5 64.7,420.3 65.7,403.0 67.4,413.9 68.2,406.0 69.1,399.3 70.3,398.8 72.6,404.9 73.0,397.5 74.9,410.5 75.1,410.9 76.2,422.9 77.4,423.1 79.3,434.8 80.3,434.5 81.5,450.0 83.4,452.0 84.6,466.4 85.5,467.7 86.8,477.4 87.6,473.3 89.2,481.8 89.6,482.0 92.0,487.4 93.1,481.7 94.4,490.5 95.3,483.9 96.3,486.0 98.0,483.1 99.2,488.6 99.5,484.3 101.9,488.1 102.2,484.9 104.6,490.5 105.6,489.1 107.1,492.7 108.1,492.0 108.7,496.0 110.7,493.5 111.9,498.7 112.7,496.8 114.6,501.3 114.8,498.6 117.0,502.2 118.4,500.9 118.6,504.4 120.9,502.7 120.9,504.8 123.5,504.7 123.6,506.7 126.0,506.0 127.4,506.8 128.8,506.5 129.3,506.8 131.2,505.4 132.3,506.0 133.6,506.6 134.0,506.8" fill="none" stroke="#000" stroke-width="0.95" stroke-linejoin="bevel"/>
<polyline points="35.6,506.8 36.2,501.5 38.5,496.8 39.3,497.7 40.5,491.4 42.1,494.4 43.4,489.1 44.7,488.5 45.1,479.3 47.0,479.3 48.2,470.1 49.4,475.0 50.2,468.5 52.1,469.4 52.7,459.3 54.2,460.3 54.6,448.5 56.1,449.1 57.5,439.3 59.2,444.1 59.9,435.3 60.7,432.3 62.7,424.0 63.7,423.1 65.8,404.6 66.4,411.9 67.8,402.5 70.1,398.2 71.0,399.6 72.1,404.2 74.1,400.9 75.6,410.5 75.7,415.5 77.7,426.6 78.3,429.0 79.5,440.4 80.9,439.6 82.7,455.5 84.3,458.9 84.7,470.3 85.9,470.9 87.9,480.1 88.1,475.2 90.2,486.6 90.9,483.5 92.1,486.1 93.8,481.3 95.1,489.6 96.4,483.1 97.6,487.8 98.1,484.7 100.4,489.0 101.1,482.7 101.8,488.0 103.8,486.9 104.5,492.2 105.4,488.9 106.7,494.8 108.4,492.4 109.1,496.5 111.2,493.1 112.5,498.9 113.0,497.7 114.9,502.1 116.5,499.8 116.8,503.0 118.8,500.8 119.4,504.0 120.8,503.5 121.7,505.2 122.6,504.8 124.7,506.8 125.3,506.3 127.4,506.8 128.7,506.5 128.9,506.8 130.2,505.7 131.8,506.1 133.8,505.7 134.0,506.8" fill="none" stroke="#000" stroke-width="0.7" stroke-linejoin="bevel"/>
<line x1="45.4" y1="489.2" x2="45.4" y2="506.4" stroke="#1a1a1a" stroke-width="1.1" stroke-dasharray="1.25 1.35" stroke-dashoffset="0.4"/>
<line x1="47.6" y1="489.4" x2="47.6" y2="505.9" stroke="#1a1a1a" stroke-width="1.1" stroke-dasharray="1.25 1.35" stroke-dashoffset="1.8"/>
<line x1="49.8" y1="488.1" x2="49.8" y2="506.7" stroke="#1a1a1a" stroke-width="1.1" stroke-dasharray="1.25 1.35" stroke-dashoffset="1.8"/>
<line x1="55.0" y1="490.0" x2="55.0" y2="506.8" stroke="#1a1a1a" stroke-width="1.1" stroke-dasharray="1.25 1.35" stroke-dashoffset="1.1"/>
<line x1="57.9" y1="470.1" x2="57.9" y2="485.6" stroke="#1a1a1a" stroke-width="1.1" stroke-dasharray="1.25 1.35" stroke-dashoffset="1.6"/>
<line x1="59.3" y1="471.2" x2="59.3" y2="486.9" stroke="#1a1a1a" stroke-width="1.1" stroke-dasharray="1.25 1.35" stroke-dashoffset="2.2"/>
<line x1="60.7" y1="470.1" x2="60.7" y2="485.7" stroke="#1a1a1a" stroke-width="1.1" stroke-dasharray="1.25 1.35" stroke-dashoffset="1.2"/>
<line x1="62.1" y1="470.5" x2="62.1" y2="486.2" stroke="#1a1a1a" stroke-width="1.1" stroke-dasharray="1.25 1.35" stroke-dashoffset="2.4"/>
<line x1="63.5" y1="470.4" x2="63.5" y2="486.8" stroke="#1a1a1a" stroke-width="1.1" stroke-dasharray="1.25 1.35" stroke-dashoffset="1.4"/>
<line x1="63.7" y1="487.0" x2="63.7" y2="506.8" stroke="#1a1a1a" stroke-width="1.1" stroke-dasharray="1.25 1.35" stroke-dashoffset="0.6"/>
<line x1="65.6" y1="470.1" x2="65.6" y2="486.8" stroke="#1a1a1a" stroke-width="1.1" stroke-dasharray="1.25 1.35" stroke-dashoffset="0.1"/>
<line x1="67.5" y1="470.2" x2="67.5" y2="486.7" stroke="#1a1a1a" stroke-width="1.1" stroke-dasharray="1.25 1.35" stroke-dashoffset="0.8"/>
<line x1="69.4" y1="470.8" x2="69.4" y2="486.7" stroke="#1a1a1a" stroke-width="1.1" stroke-dasharray="1.25 1.35" stroke-dashoffset="1.3"/>
<line x1="69.4" y1="451.8" x2="69.4" y2="468.7" stroke="#1a1a1a" stroke-width="1.1" stroke-dasharray="1.25 1.35" stroke-dashoffset="0.0"/>
<line x1="71.3" y1="451.9" x2="71.3" y2="469.0" stroke="#1a1a1a" stroke-width="1.1" stroke-dasharray="1.25 1.35" stroke-dashoffset="1.9"/>
<line x1="74.2" y1="452.4" x2="74.2" y2="468.7" stroke="#1a1a1a" stroke-width="1.1" stroke-dasharray="1.25 1.35" stroke-dashoffset="1.2"/>
<line x1="75.7" y1="453.0" x2="75.7" y2="468.8" stroke="#1a1a1a" stroke-width="1.1" stroke-dasharray="1.25 1.35" stroke-dashoffset="2.1"/>
<line x1="77.2" y1="452.2" x2="77.2" y2="468.3" stroke="#1a1a1a" stroke-width="1.1" stroke-dasharray="1.25 1.35" stroke-dashoffset="2.2"/>
<line x1="78.7" y1="452.2" x2="78.7" y2="468.2" stroke="#1a1a1a" stroke-width="1.1" stroke-dasharray="1.25 1.35" stroke-dashoffset="1.8"/>
<line x1="80.8" y1="433.4" x2="80.8" y2="443.7" stroke="#1a1a1a" stroke-width="1.1" stroke-dasharray="1.25 1.35" stroke-dashoffset="2.2"/>
<line x1="82.2" y1="433.1" x2="82.2" y2="443.4" stroke="#1a1a1a" stroke-width="1.1" stroke-dasharray="1.25 1.35" stroke-dashoffset="1.1"/>
<line x1="84.8" y1="452.3" x2="84.8" y2="468.9" stroke="#1a1a1a" stroke-width="1.1" stroke-dasharray="1.25 1.35" stroke-dashoffset="0.3"/>
<line x1="86.7" y1="451.7" x2="86.7" y2="467.5" stroke="#1a1a1a" stroke-width="1.1" stroke-dasharray="1.25 1.35" stroke-dashoffset="0.7"/>
<line x1="88.6" y1="451.9" x2="88.6" y2="468.8" stroke="#1a1a1a" stroke-width="1.1" stroke-dasharray="1.25 1.35" stroke-dashoffset="2.2"/>
<line x1="90.5" y1="453.3" x2="90.5" y2="467.7" stroke="#1a1a1a" stroke-width="1.1" stroke-dasharray="1.25 1.35" stroke-dashoffset="0.7"/>
<line x1="92.4" y1="452.1" x2="92.4" y2="468.4" stroke="#1a1a1a" stroke-width="1.1" stroke-dasharray="1.25 1.35" stroke-dashoffset="1.2"/>
<line x1="94.3" y1="451.9" x2="94.3" y2="468.1" stroke="#1a1a1a" stroke-width="1.1" stroke-dasharray="1.25 1.35" stroke-dashoffset="0.7"/>
<line x1="96.2" y1="453.5" x2="96.2" y2="467.1" stroke="#1a1a1a" stroke-width="1.1" stroke-dasharray="1.25 1.35" stroke-dashoffset="1.4"/>
<line x1="91.5" y1="469.2" x2="91.5" y2="483.0" stroke="#1a1a1a" stroke-width="1.1" stroke-dasharray="1.25 1.35" stroke-dashoffset="0.8"/>
<line x1="93.5" y1="469.4" x2="93.5" y2="484.0" stroke="#1a1a1a" stroke-width="1.1" stroke-dasharray="1.25 1.35" stroke-dashoffset="1.0"/>
<line x1="96.5" y1="432.9" x2="96.5" y2="449.2" stroke="#1a1a1a" stroke-width="1.1" stroke-dasharray="1.25 1.35" stroke-dashoffset="0.5"/>
<line x1="98.3" y1="432.9" x2="98.3" y2="449.7" stroke="#1a1a1a" stroke-width="1.1" stroke-dasharray="1.25 1.35" stroke-dashoffset="0.7"/>
<line x1="102.3" y1="413.1" x2="102.3" y2="431.8" stroke="#1a1a1a" stroke-width="1.1" stroke-dasharray="1.25 1.35" stroke-dashoffset="0.1"/>
<line x1="103.7" y1="413.0" x2="103.7" y2="431.9" stroke="#1a1a1a" stroke-width="1.1" stroke-dasharray="1.25 1.35" stroke-dashoffset="0.6"/>
<line x1="105.1" y1="413.9" x2="105.1" y2="431.6" stroke="#1a1a1a" stroke-width="1.1" stroke-dasharray="1.25 1.35" stroke-dashoffset="2.0"/>
<line x1="106.5" y1="414.0" x2="106.5" y2="431.3" stroke="#1a1a1a" stroke-width="1.1" stroke-dasharray="1.25 1.35" stroke-dashoffset="2.3"/>
<line x1="107.9" y1="413.6" x2="107.9" y2="431.9" stroke="#1a1a1a" stroke-width="1.1" stroke-dasharray="1.25 1.35" stroke-dashoffset="2.6"/>
<line x1="108.3" y1="432.5" x2="108.3" y2="449.0" stroke="#1a1a1a" stroke-width="1.1" stroke-dasharray="1.25 1.35" stroke-dashoffset="1.7"/>
<line x1="109.8" y1="432.4" x2="109.8" y2="448.9" stroke="#1a1a1a" stroke-width="1.1" stroke-dasharray="1.25 1.35" stroke-dashoffset="2.3"/>
<line x1="111.0" y1="395.0" x2="111.0" y2="413.0" stroke="#1a1a1a" stroke-width="1.1" stroke-dasharray="1.25 1.35" stroke-dashoffset="1.6"/>
<line x1="112.8" y1="395.0" x2="112.8" y2="413.0" stroke="#1a1a1a" stroke-width="1.1" stroke-dasharray="1.25 1.35" stroke-dashoffset="1.9"/>
<line x1="113.0" y1="413.0" x2="113.0" y2="449.7" stroke="#1a1a1a" stroke-width="1.1" stroke-dasharray="1.25 1.35" stroke-dashoffset="2.1"/>
<line x1="114.8" y1="413.0" x2="114.8" y2="449.7" stroke="#1a1a1a" stroke-width="1.1" stroke-dasharray="1.25 1.35" stroke-dashoffset="0.4"/>
<line x1="117.3" y1="395.0" x2="117.3" y2="413.0" stroke="#1a1a1a" stroke-width="1.1" stroke-dasharray="1.25 1.35" stroke-dashoffset="1.4"/>
<line x1="118.9" y1="395.0" x2="118.9" y2="413.0" stroke="#1a1a1a" stroke-width="1.1" stroke-dasharray="1.25 1.35" stroke-dashoffset="1.3"/>
<line x1="119.8" y1="413.8" x2="119.8" y2="431.6" stroke="#1a1a1a" stroke-width="1.1" stroke-dasharray="1.25 1.35" stroke-dashoffset="2.1"/>
<line x1="121.7" y1="413.6" x2="121.7" y2="431.5" stroke="#1a1a1a" stroke-width="1.1" stroke-dasharray="1.25 1.35" stroke-dashoffset="1.8"/>
<line x1="121.7" y1="433.4" x2="121.7" y2="449.4" stroke="#1a1a1a" stroke-width="1.1" stroke-dasharray="1.25 1.35" stroke-dashoffset="0.1"/>
<line x1="123.1" y1="432.6" x2="123.1" y2="449.2" stroke="#1a1a1a" stroke-width="1.1" stroke-dasharray="1.25 1.35" stroke-dashoffset="0.3"/>
<line x1="124.5" y1="433.7" x2="124.5" y2="448.9" stroke="#1a1a1a" stroke-width="1.1" stroke-dasharray="1.25 1.35" stroke-dashoffset="1.6"/>
<line x1="125.9" y1="433.3" x2="125.9" y2="448.7" stroke="#1a1a1a" stroke-width="1.1" stroke-dasharray="1.25 1.35" stroke-dashoffset="1.3"/>
<line x1="127.3" y1="432.4" x2="127.3" y2="448.5" stroke="#1a1a1a" stroke-width="1.1" stroke-dasharray="1.25 1.35" stroke-dashoffset="1.9"/>
<line x1="125.5" y1="414.0" x2="125.5" y2="432.4" stroke="#1a1a1a" stroke-width="1.1" stroke-dasharray="1.25 1.35" stroke-dashoffset="1.3"/>
<line x1="130.4" y1="432.9" x2="130.4" y2="449.0" stroke="#1a1a1a" stroke-width="1.1" stroke-dasharray="1.25 1.35" stroke-dashoffset="0.2"/>
<line x1="132.3" y1="433.1" x2="132.3" y2="449.4" stroke="#1a1a1a" stroke-width="1.1" stroke-dasharray="1.25 1.35" stroke-dashoffset="0.2"/>
<line x1="126.5" y1="450.2" x2="126.5" y2="467.5" stroke="#1a1a1a" stroke-width="1.1" stroke-dasharray="1.25 1.35" stroke-dashoffset="0.5"/>
<line x1="128.0" y1="451.2" x2="128.0" y2="467.0" stroke="#1a1a1a" stroke-width="1.1" stroke-dasharray="1.25 1.35" stroke-dashoffset="1.3"/>
<line x1="129.5" y1="450.5" x2="129.5" y2="468.0" stroke="#1a1a1a" stroke-width="1.1" stroke-dasharray="1.25 1.35" stroke-dashoffset="1.8"/>
<line x1="131.0" y1="451.2" x2="131.0" y2="467.8" stroke="#1a1a1a" stroke-width="1.1" stroke-dasharray="1.25 1.35" stroke-dashoffset="1.7"/>
<line x1="127.5" y1="469.1" x2="127.5" y2="486.1" stroke="#1a1a1a" stroke-width="1.1" stroke-dasharray="1.25 1.35" stroke-dashoffset="0.7"/>
<line x1="129.4" y1="469.7" x2="129.4" y2="485.9" stroke="#1a1a1a" stroke-width="1.1" stroke-dasharray="1.25 1.35" stroke-dashoffset="1.5"/>
<line x1="132.3" y1="469.0" x2="132.3" y2="487.9" stroke="#1a1a1a" stroke-width="1.1" stroke-dasharray="1.25 1.35" stroke-dashoffset="0.7"/>
<line x1="134.6" y1="470.0" x2="134.6" y2="487.0" stroke="#1a1a1a" stroke-width="1.1" stroke-dasharray="1.25 1.35" stroke-dashoffset="1.8"/>
<line x1="136.9" y1="469.4" x2="136.9" y2="487.2" stroke="#1a1a1a" stroke-width="1.1" stroke-dasharray="1.25 1.35" stroke-dashoffset="1.2"/>
<line x1="135.2" y1="451.6" x2="135.2" y2="469.0" stroke="#1a1a1a" stroke-width="1.1" stroke-dasharray="1.25 1.35" stroke-dashoffset="1.2"/>
<line x1="214.4" y1="467" x2="214.4" y2="506.6" stroke="#000" stroke-width="1.0"/>
<polyline points="214.6,506.6 215.9,501.2 216.6,496.6 218.1,499.4 219.8,491.2 220.8,493.6 223.2,486.1 223.6,486.2 224.7,477.7 226.9,479.8 227.5,465.4 229.8,472.7 231.2,466.7 232.4,467.1 233.9,456.5 234.4,453.8 236.3,443.9 236.8,446.6 237.8,437.8 239.1,439.7 240.8,426.0 242.1,428.4 243.6,417.6 245.1,421.0 245.1,412.0 247.0,409.8 248.7,408.9 250.3,408.4 250.7,399.6 252.1,401.3 253.4,400.7 254.4,400.6 255.8,405.4 257.6,424.1 258.8,427.1 259.7,440.4 261.6,438.2 262.9,449.1 264.4,449.9 265.6,463.8 266.4,467.6 267.7,481.4 268.6,481.3 269.6,490.9 271.4,493.6 272.3,500.1 274.2,498.1 275.6,501.6 276.1,500.8 277.9,503.5 279.1,502.1 280.1,503.4 281.4,501.2 282.3,504.1 283.7,502.2 285.5,504.6 285.8,504.1 287.1,506.1 288.5,506.0" fill="none" stroke="#000" stroke-width="0.95" stroke-linejoin="bevel"/>
<polyline points="214.6,506.6 216.3,502.0 216.9,496.4 218.9,498.4 220.0,490.9 221.7,493.2 222.2,485.1 224.4,486.7 224.8,479.6 226.5,480.9 228.0,469.3 228.1,469.8 230.0,469.4 231.6,470.7 232.8,459.5 233.6,460.2 235.5,445.4 236.0,446.4 237.9,437.9 238.8,440.5 240.5,429.9 241.4,427.0 242.2,419.6 244.2,421.5 246.0,414.1 246.3,409.1 247.5,407.9 248.6,411.6 250.7,400.1 252.3,399.1 253.6,398.7 254.5,399.7 255.9,403.1 256.4,422.8 257.9,425.8 260.0,437.0 260.7,437.8 262.2,447.9 263.5,447.0 263.9,460.0 266.1,460.5 266.1,474.1 268.5,479.1 270.2,491.4 271.3,491.2 272.9,498.9 272.7,496.6 274.2,501.6 276.3,500.8 276.9,503.7 278.2,502.6 280.0,503.7 280.0,501.1 281.8,503.5 283.6,502.4 283.9,504.8 286.0,503.5 287.1,505.6 288.4,505.1 288.5,506.0" fill="none" stroke="#000" stroke-width="0.7" stroke-linejoin="bevel"/>
<polyline points="288.5,506.0 289.2,504.4 290.0,503.8 290.8,505.4 291.6,505.4 292.4,506.6 293.2,506.6 294.0,506.0 294.8,506.6 295.6,505.4 296.4,503.8 297.2,504.4 298.0,503.8 298.8,506.6 299.6,505.4 300.4,503.8 301.2,503.8 302.0,506.0 302.8,506.6 303.6,506.0 304.4,504.4 305.2,506.6 306.0,506.0 306.8,504.4 307.6,506.0 308.4,504.4 309.2,506.6 311.0,506.6" fill="none" stroke="#000" stroke-width="1"/>
<line x1="224.4" y1="479.7" x2="224.4" y2="506.6" stroke="#1a1a1a" stroke-width="1.1" stroke-dasharray="1.25 1.35" stroke-dashoffset="2.3"/>
<line x1="227.3" y1="479.9" x2="227.3" y2="506.6" stroke="#1a1a1a" stroke-width="1.1" stroke-dasharray="1.25 1.35" stroke-dashoffset="2.5"/>
<line x1="231.2" y1="481.4" x2="231.2" y2="506.6" stroke="#1a1a1a" stroke-width="1.1" stroke-dasharray="1.25 1.35" stroke-dashoffset="0.0"/>
<line x1="233.1" y1="480.4" x2="233.1" y2="506.6" stroke="#1a1a1a" stroke-width="1.1" stroke-dasharray="1.25 1.35" stroke-dashoffset="2.1"/>
<line x1="235.0" y1="481.4" x2="235.0" y2="506.6" stroke="#1a1a1a" stroke-width="1.1" stroke-dasharray="1.25 1.35" stroke-dashoffset="1.2"/>
<line x1="238.8" y1="480.0" x2="238.8" y2="506.6" stroke="#1a1a1a" stroke-width="1.1" stroke-dasharray="1.25 1.35" stroke-dashoffset="0.5"/>
<line x1="228.3" y1="479.5" x2="245.6" y2="479.5" stroke="#1a1a1a" stroke-width="1.1" stroke-dasharray="1.25 1.35"/>
<line x1="236.0" y1="452.6" x2="236.0" y2="479.5" stroke="#1a1a1a" stroke-width="1.1" stroke-dasharray="1.25 1.35" stroke-dashoffset="0.5"/>
<line x1="237.9" y1="451.9" x2="237.9" y2="479.5" stroke="#1a1a1a" stroke-width="1.1" stroke-dasharray="1.25 1.35" stroke-dashoffset="0.4"/>
<line x1="239.8" y1="451.7" x2="239.8" y2="479.5" stroke="#1a1a1a" stroke-width="1.1" stroke-dasharray="1.25 1.35" stroke-dashoffset="2.5"/>
<line x1="241.7" y1="451.0" x2="241.7" y2="479.5" stroke="#1a1a1a" stroke-width="1.1" stroke-dasharray="1.25 1.35" stroke-dashoffset="2.1"/>
<line x1="243.7" y1="451.7" x2="243.7" y2="479.5" stroke="#1a1a1a" stroke-width="1.1" stroke-dasharray="1.25 1.35" stroke-dashoffset="2.3"/>
<line x1="245.6" y1="452.1" x2="245.6" y2="479.5" stroke="#1a1a1a" stroke-width="1.1" stroke-dasharray="1.25 1.35" stroke-dashoffset="0.6"/>
<line x1="236.0" y1="450.7" x2="245.6" y2="450.7" stroke="#1a1a1a" stroke-width="1.1" stroke-dasharray="1.25 1.35"/>
<line x1="245.6" y1="425.5" x2="245.6" y2="449.7" stroke="#1a1a1a" stroke-width="1.1" stroke-dasharray="1.25 1.35" stroke-dashoffset="0.1"/>
<line x1="247.6" y1="422.8" x2="247.6" y2="449.7" stroke="#1a1a1a" stroke-width="1.1" stroke-dasharray="1.25 1.35" stroke-dashoffset="1.2"/>
<line x1="249.6" y1="423.7" x2="249.6" y2="450.4" stroke="#1a1a1a" stroke-width="1.1" stroke-dasharray="1.25 1.35" stroke-dashoffset="0.9"/>
<line x1="251.6" y1="423.7" x2="251.6" y2="449.0" stroke="#1a1a1a" stroke-width="1.1" stroke-dasharray="1.25 1.35" stroke-dashoffset="0.0"/>
<line x1="253.6" y1="425.1" x2="253.6" y2="449.0" stroke="#1a1a1a" stroke-width="1.1" stroke-dasharray="1.25 1.35" stroke-dashoffset="0.3"/>
<line x1="255.6" y1="425.6" x2="255.6" y2="449.3" stroke="#1a1a1a" stroke-width="1.1" stroke-dasharray="1.25 1.35" stroke-dashoffset="2.3"/>
<line x1="257.6" y1="423.7" x2="257.6" y2="450.0" stroke="#1a1a1a" stroke-width="1.1" stroke-dasharray="1.25 1.35" stroke-dashoffset="1.0"/>
<line x1="259.6" y1="425.8" x2="259.6" y2="449.5" stroke="#1a1a1a" stroke-width="1.1" stroke-dasharray="1.25 1.35" stroke-dashoffset="0.9"/>
<line x1="261.6" y1="424.1" x2="261.6" y2="450.1" stroke="#1a1a1a" stroke-width="1.1" stroke-dasharray="1.25 1.35" stroke-dashoffset="0.1"/>
<line x1="263.6" y1="423.1" x2="263.6" y2="449.0" stroke="#1a1a1a" stroke-width="1.1" stroke-dasharray="1.25 1.35" stroke-dashoffset="0.7"/>
<line x1="265.6" y1="425.6" x2="265.6" y2="450.2" stroke="#1a1a1a" stroke-width="1.1" stroke-dasharray="1.25 1.35" stroke-dashoffset="0.7"/>
<line x1="245.6" y1="422.8" x2="265.8" y2="422.8" stroke="#1a1a1a" stroke-width="1.1" stroke-dasharray="1.25 1.35"/>
<line x1="251.3" y1="395.0" x2="251.3" y2="422.8" stroke="#1a1a1a" stroke-width="1.1" stroke-dasharray="1.25 1.35" stroke-dashoffset="1.3"/>
<line x1="253.8" y1="395.0" x2="253.8" y2="422.8" stroke="#1a1a1a" stroke-width="1.1" stroke-dasharray="1.25 1.35" stroke-dashoffset="0.5"/>
<line x1="256.2" y1="395.0" x2="256.2" y2="422.8" stroke="#1a1a1a" stroke-width="1.1" stroke-dasharray="1.25 1.35" stroke-dashoffset="1.0"/>
<line x1="265.8" y1="450.7" x2="296.5" y2="450.7" stroke="#1a1a1a" stroke-width="1.1" stroke-dasharray="1.25 1.35"/>
<line x1="265.8" y1="452.6" x2="265.8" y2="479.5" stroke="#1a1a1a" stroke-width="1.1" stroke-dasharray="1.25 1.35" stroke-dashoffset="2.3"/>
<line x1="267.3" y1="452.3" x2="267.3" y2="479.5" stroke="#1a1a1a" stroke-width="1.1" stroke-dasharray="1.25 1.35" stroke-dashoffset="1.6"/>
<line x1="268.8" y1="452.5" x2="268.8" y2="479.5" stroke="#1a1a1a" stroke-width="1.1" stroke-dasharray="1.25 1.35" stroke-dashoffset="2.4"/>
<line x1="270.3" y1="451.8" x2="270.3" y2="479.5" stroke="#1a1a1a" stroke-width="1.1" stroke-dasharray="1.25 1.35" stroke-dashoffset="1.9"/>
<line x1="273.8" y1="450.8" x2="273.8" y2="479.5" stroke="#1a1a1a" stroke-width="1.1" stroke-dasharray="1.25 1.35" stroke-dashoffset="1.9"/>
<line x1="276.7" y1="451.6" x2="276.7" y2="479.5" stroke="#1a1a1a" stroke-width="1.1" stroke-dasharray="1.25 1.35" stroke-dashoffset="2.0"/>
<line x1="279.6" y1="452.0" x2="279.6" y2="479.5" stroke="#1a1a1a" stroke-width="1.1" stroke-dasharray="1.25 1.35" stroke-dashoffset="0.7"/>
<line x1="282.5" y1="450.8" x2="282.5" y2="479.5" stroke="#1a1a1a" stroke-width="1.1" stroke-dasharray="1.25 1.35" stroke-dashoffset="2.4"/>
<line x1="285.4" y1="451.0" x2="285.4" y2="479.5" stroke="#1a1a1a" stroke-width="1.1" stroke-dasharray="1.25 1.35" stroke-dashoffset="1.2"/>
<line x1="289.2" y1="451.4" x2="289.2" y2="479.5" stroke="#1a1a1a" stroke-width="1.1" stroke-dasharray="1.25 1.35" stroke-dashoffset="0.8"/>
<line x1="291.2" y1="452.2" x2="291.2" y2="479.5" stroke="#1a1a1a" stroke-width="1.1" stroke-dasharray="1.25 1.35" stroke-dashoffset="2.5"/>
<line x1="296.0" y1="451.2" x2="296.0" y2="479.5" stroke="#1a1a1a" stroke-width="1.1" stroke-dasharray="1.25 1.35" stroke-dashoffset="1.7"/>
<line x1="274.8" y1="451.3" x2="274.8" y2="479.5" stroke="#1a1a1a" stroke-width="1.1" stroke-dasharray="1.25 1.35" stroke-dashoffset="1.4"/>
<line x1="277.7" y1="451.5" x2="277.7" y2="479.5" stroke="#1a1a1a" stroke-width="1.1" stroke-dasharray="1.25 1.35" stroke-dashoffset="0.4"/>
<line x1="280.6" y1="451.0" x2="280.6" y2="479.5" stroke="#1a1a1a" stroke-width="1.1" stroke-dasharray="1.25 1.35" stroke-dashoffset="0.5"/>
<line x1="283.5" y1="452.5" x2="283.5" y2="479.5" stroke="#1a1a1a" stroke-width="1.1" stroke-dasharray="1.25 1.35" stroke-dashoffset="1.3"/>
<line x1="267.7" y1="479.5" x2="304.6" y2="479.5" stroke="#1a1a1a" stroke-width="1.1" stroke-dasharray="1.25 1.35"/>
<line x1="291.7" y1="479.7" x2="291.7" y2="505.7" stroke="#1a1a1a" stroke-width="1.1" stroke-dasharray="1.25 1.35" stroke-dashoffset="2.6"/>
<line x1="293.2" y1="479.9" x2="293.2" y2="506.5" stroke="#1a1a1a" stroke-width="1.1" stroke-dasharray="1.25 1.35" stroke-dashoffset="0.5"/>
<line x1="299.2" y1="479.6" x2="299.2" y2="506.3" stroke="#1a1a1a" stroke-width="1.1" stroke-dasharray="1.25 1.35" stroke-dashoffset="0.2"/>
<line x1="300.6" y1="479.7" x2="300.6" y2="506.3" stroke="#1a1a1a" stroke-width="1.1" stroke-dasharray="1.25 1.35" stroke-dashoffset="1.5"/>
<line x1="302.0" y1="480.4" x2="302.0" y2="505.9" stroke="#1a1a1a" stroke-width="1.1" stroke-dasharray="1.25 1.35" stroke-dashoffset="1.1"/>
<line x1="303.4" y1="479.9" x2="303.4" y2="506.1" stroke="#1a1a1a" stroke-width="1.1" stroke-dasharray="1.25 1.35" stroke-dashoffset="1.0"/>
<line x1="304.8" y1="479.8" x2="304.8" y2="506.5" stroke="#1a1a1a" stroke-width="1.1" stroke-dasharray="1.25 1.35" stroke-dashoffset="0.7"/>
<text transform="translate(2.2,22.5) scale(1.065,1.09)" font-size="32" font-weight="bold" font-family="Liberation Sans, sans-serif">A</text>
<text transform="translate(4.3,224) scale(0.965,1.03)" font-size="32" font-weight="bold" font-family="Liberation Sans, sans-serif">B</text>
<text transform="translate(-0.8,579.9) scale(0.945,1.06)" font-size="32" font-weight="bold" font-family="Liberation Sans, sans-serif">C</text>
<text x="109" y="23" font-size="29" fill="#000" font-weight="bold" font-style="italic" text-anchor="middle" font-family="Liberation Serif, serif" >Ex vivo</text>
<text x="285.8" y="19" font-size="29" fill="#000" font-weight="bold" font-style="normal" text-anchor="middle" font-family="Liberation Serif, serif" >Overnight</text>
<text x="111.2" y="229.8" font-size="29" fill="#000" font-weight="bold" font-style="normal" text-anchor="middle" font-family="Liberation Serif, serif" >0 min</text>
<text x="287.2" y="229.8" font-size="29" fill="#000" font-weight="bold" font-style="normal" text-anchor="middle" font-family="Liberation Serif, serif" >30 min</text>
<text x="105.5" y="387.8" font-size="29" fill="#000" font-weight="bold" font-style="normal" text-anchor="middle" font-family="Liberation Serif, serif" >60 min</text>
<text x="289.2" y="387.8" font-size="29" fill="#000" font-weight="bold" font-style="normal" text-anchor="middle" font-family="Liberation Serif, serif" >6 hrs</text>
<text x="46" y="165.5" font-size="23" font-weight="bold" font-family="Liberation Serif, serif">IL-7R<tspan font-weight="normal" font-size="22.5" dx="-0.3" font-family="DejaVu Serif, serif">α</tspan></text>
<text x="46" y="532" font-size="23" font-weight="bold" font-family="Liberation Serif, serif">IL-7R<tspan font-weight="normal" font-size="22.5" dx="-0.3" font-family="DejaVu Serif, serif">α</tspan></text>
<line x1="138" y1="166.7" x2="352" y2="166.7" stroke="#000" stroke-width="2.3"/>
<polygon points="348,160.1 361.6,166.5 348,172.9" fill="#000"/>
<line x1="138" y1="532.8000000000001" x2="352" y2="532.8000000000001" stroke="#000" stroke-width="2.3"/>
<polygon points="348,526.2 361.6,532.6 348,539.0" fill="#000"/>
<text x="50.8" y="86.3" font-size="21" fill="#000" font-weight="normal" font-style="normal" text-anchor="start" font-family="Liberation Serif, serif" >123</text>
<text x="137" y="64.8" font-size="22.8" fill="#8a8a8a" font-weight="normal" font-style="normal" text-anchor="start" font-family="Liberation Serif, serif" >306</text>
<text x="233.3" y="87" font-size="23" fill="#000" font-weight="normal" font-style="normal" text-anchor="start" font-family="Liberation Serif, serif" >277</text>
<text x="310.8" y="58.3" font-size="23" fill="#8a8a8a" font-weight="normal" font-style="normal" text-anchor="start" font-family="Liberation Serif, serif" >399</text>
<text x="48" y="293" font-size="21" fill="#000" font-weight="normal" font-style="normal" text-anchor="start" font-family="Liberation Serif, serif" >120</text>
<text x="135.8" y="271" font-size="22.5" fill="#8a8a8a" font-weight="normal" font-style="normal" text-anchor="start" font-family="Liberation Serif, serif" >304</text>
<text x="254.5" y="257.5" font-size="22" fill="#000" font-weight="normal" font-style="normal" text-anchor="start" font-family="Liberation Serif, serif" >22</text>
<text x="310.5" y="304.6" font-size="22" fill="#8a8a8a" font-weight="normal" font-style="normal" text-anchor="start" font-family="Liberation Serif, serif" >118</text>
<text x="78" y="415.7" font-size="21" fill="#000" font-weight="normal" font-style="normal" text-anchor="start" font-family="Liberation Serif, serif" >19</text>
<text x="135.8" y="461.8" font-size="21.5" fill="#8a8a8a" font-weight="normal" font-style="normal" text-anchor="start" font-family="Liberation Serif, serif" >123</text>
<text x="258.8" y="417" font-size="22" fill="#000" font-weight="normal" font-style="normal" text-anchor="start" font-family="Liberation Serif, serif" >16</text>
<text x="300.3" y="461.8" font-size="21.5" fill="#8a8a8a" font-weight="normal" font-style="normal" text-anchor="start" font-family="Liberation Serif, serif" >61</text>
<line x1="378.2" y1="33.2" x2="421.3" y2="33.2" stroke="#000" stroke-width="4.4"/>
<line x1="378.2" y1="67.8" x2="416" y2="67.8" stroke="#000" stroke-width="2.8" stroke-dasharray="8.7 5.8"/>
<text x="430" y="38" font-size="23" fill="#000" font-weight="bold" font-style="normal" text-anchor="start" font-family="Liberation Serif, serif" >Neo RTE</text>
<text x="430" y="73.5" font-size="23" fill="#000" font-weight="bold" font-style="normal" text-anchor="start" font-family="Liberation Serif, serif" >AD RTE</text>
<line x1="73.5" y1="596.5" x2="73.5" y2="777.2" stroke="#000" stroke-width="3.2"/>
<line x1="72" y1="775.5" x2="416.6" y2="775.5" stroke="#000" stroke-width="3.4"/>
<line x1="67.2" y1="775.5" x2="73" y2="775.5" stroke="#000" stroke-width="2.8"/>
<text x="66" y="781.5" font-size="18" fill="#000" font-weight="bold" font-style="normal" text-anchor="end" font-family="Liberation Serif, serif" >0</text>
<line x1="67.2" y1="731.1" x2="73" y2="731.1" stroke="#000" stroke-width="2.8"/>
<text x="66" y="737.1" font-size="18" fill="#000" font-weight="bold" font-style="normal" text-anchor="end" font-family="Liberation Serif, serif" >10</text>
<line x1="67.2" y1="686.7" x2="73" y2="686.7" stroke="#000" stroke-width="2.8"/>
<text x="66" y="692.7" font-size="18" fill="#000" font-weight="bold" font-style="normal" text-anchor="end" font-family="Liberation Serif, serif" >20</text>
<line x1="67.2" y1="642.3" x2="73" y2="642.3" stroke="#000" stroke-width="2.8"/>
<text x="66" y="648.3" font-size="18" fill="#000" font-weight="bold" font-style="normal" text-anchor="end" font-family="Liberation Serif, serif" >30</text>
<line x1="67.2" y1="597.9" x2="73" y2="597.9" stroke="#000" stroke-width="2.8"/>
<text x="66" y="603.9" font-size="18" fill="#000" font-weight="bold" font-style="normal" text-anchor="end" font-family="Liberation Serif, serif" >40</text>
<line x1="186.4" y1="588.3" x2="186.4" y2="774" stroke="#000" stroke-width="3.3"/>
<line x1="302.6" y1="588.3" x2="302.6" y2="774" stroke="#000" stroke-width="3.3"/>
<line x1="79" y1="786.5" x2="180.5" y2="786.5" stroke="#000" stroke-width="3.3"/>
<line x1="79" y1="778.8" x2="79" y2="795.2" stroke="#000" stroke-width="3.3" stroke-linecap="round"/>
<line x1="180.5" y1="778.8" x2="180.5" y2="795.2" stroke="#000" stroke-width="3.3" stroke-linecap="round"/>
<text x="130.05" y="805.6" font-size="21.4" fill="#000" font-weight="bold" font-style="normal" text-anchor="middle" font-family="Liberation Serif, serif" >5 min</text>
<line x1="194" y1="786.5" x2="295.5" y2="786.5" stroke="#000" stroke-width="3.3"/>
<line x1="194" y1="778.8" x2="194" y2="795.2" stroke="#000" stroke-width="3.3" stroke-linecap="round"/>
<line x1="295.5" y1="778.8" x2="295.5" y2="795.2" stroke="#000" stroke-width="3.3" stroke-linecap="round"/>
<text x="245.05" y="805.6" font-size="21.4" fill="#000" font-weight="bold" font-style="normal" text-anchor="middle" font-family="Liberation Serif, serif" >15 min</text>
<line x1="310" y1="786.5" x2="411" y2="786.5" stroke="#000" stroke-width="3.3"/>
<line x1="310" y1="778.8" x2="310" y2="795.2" stroke="#000" stroke-width="3.3" stroke-linecap="round"/>
<line x1="411" y1="778.8" x2="411" y2="795.2" stroke="#000" stroke-width="3.3" stroke-linecap="round"/>
<text x="360.8" y="805.6" font-size="21.4" fill="#000" font-weight="bold" font-style="normal" text-anchor="middle" font-family="Liberation Serif, serif" >60 min</text>
<circle cx="101.5" cy="655.3" r="4.7" fill="#000"/>
<circle cx="109" cy="651.5" r="4.7" fill="#000"/>
<line x1="81.5" y1="654.7" x2="122" y2="654.7" stroke="#000" stroke-width="2.2"/>
<rect x="153.2" y="678.4000000000001" width="9.6" height="9.6" fill="#000"/>
<rect x="153.2" y="694.0" width="9.6" height="9.6" fill="#000"/>
<line x1="139" y1="691.3" x2="179" y2="691.3" stroke="#000" stroke-width="2.2"/>
<circle cx="215" cy="618.3" r="4.7" fill="#000"/>
<circle cx="222.8" cy="606.7" r="4.7" fill="#000"/>
<line x1="196" y1="612.7" x2="236" y2="612.7" stroke="#000" stroke-width="2.2"/>
<rect x="266.8" y="659.0" width="9.6" height="9.6" fill="#000"/>
<rect x="275.59999999999997" y="654.7" width="9.6" height="9.6" fill="#000"/>
<line x1="252.5" y1="662.3" x2="293" y2="662.3" stroke="#000" stroke-width="2.2"/>
<circle cx="329.3" cy="615.5" r="4.7" fill="#000"/>
<circle cx="329.3" cy="642.5" r="4.7" fill="#000"/>
<line x1="310" y1="629.3" x2="350" y2="629.3" stroke="#000" stroke-width="2.2"/>
<rect x="381.4" y="680.2" width="9.6" height="9.6" fill="#000"/>
<rect x="389.2" y="676.2" width="9.6" height="9.6" fill="#000"/>
<line x1="367.5" y1="683.8" x2="407.5" y2="683.8" stroke="#000" stroke-width="2.2"/>
<circle cx="421.2" cy="602" r="4.7" fill="#000"/>
<rect x="416.4" y="622.5" width="9.6" height="9.6" fill="#000"/>
<text x="438.3" y="610.5" font-size="21" fill="#000" font-weight="bold" font-style="normal" text-anchor="start" font-family="Liberation Serif, serif" >Neo RTE</text>
<text x="438.3" y="636.5" font-size="21" fill="#000" font-weight="bold" font-style="normal" text-anchor="start" font-family="Liberation Serif, serif" >AD RTE</text>
<text id="ylab" transform="translate(31.5,686.6) rotate(-90) scale(1.1,1)" font-size="21.5" letter-spacing="1.3" font-weight="bold" text-anchor="middle" font-family="Liberation Serif, serif">ΔMFI pSTAT5</text>
</svg></body></html>
